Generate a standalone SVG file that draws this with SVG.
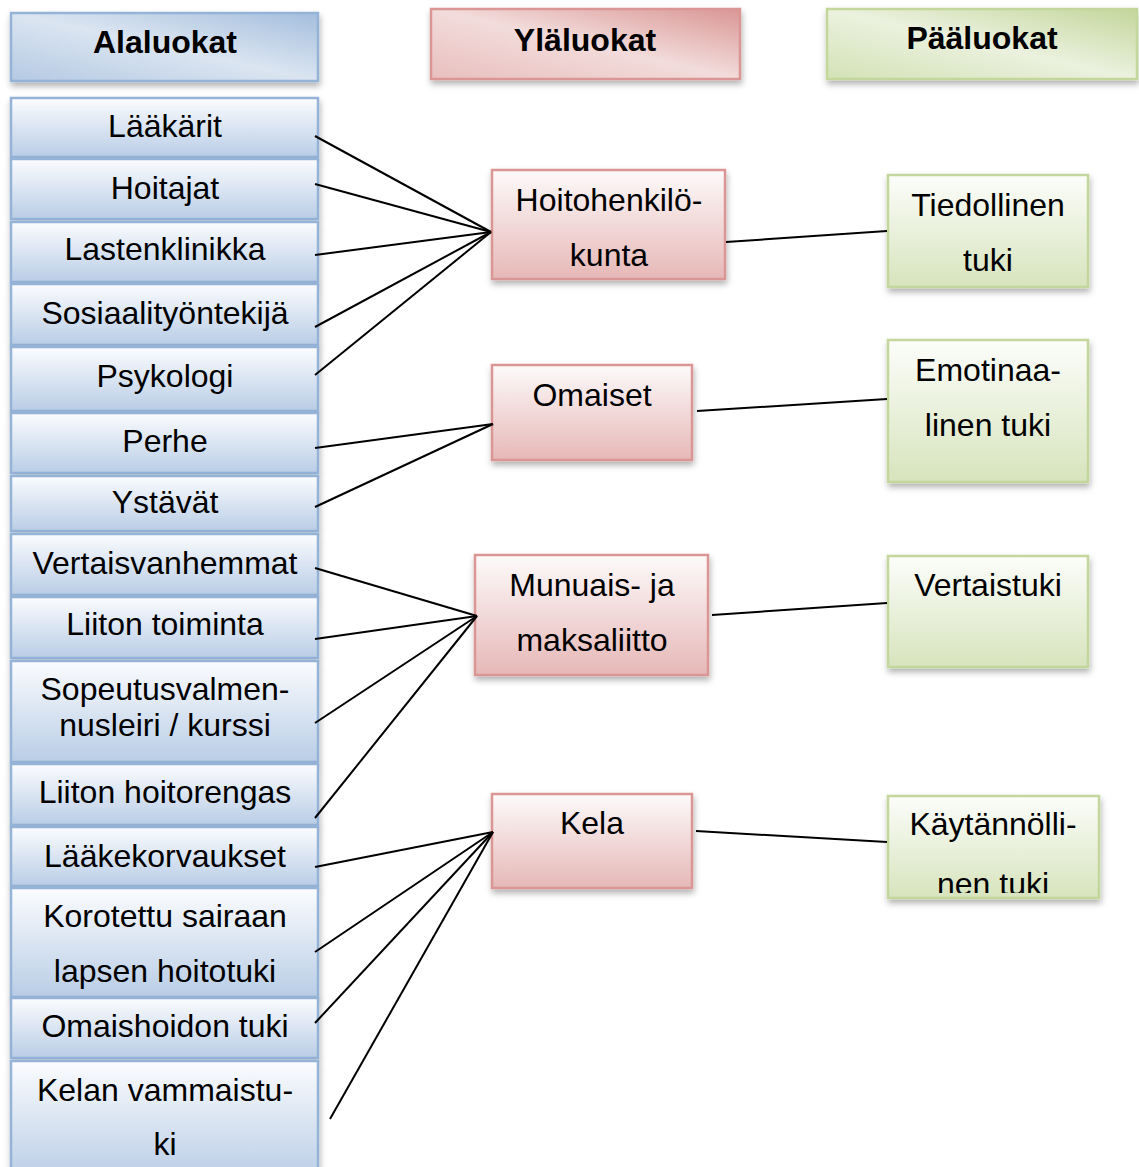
<svg xmlns="http://www.w3.org/2000/svg" width="1139" height="1167" viewBox="0 0 1139 1167">
<defs>
  <linearGradient id="gBlue" x1="0" y1="0" x2="0" y2="1">
    <stop offset="0" stop-color="#fbfcfe"/>
    <stop offset="1" stop-color="#b9cde6"/>
  </linearGradient>
  <linearGradient id="gPink" x1="0" y1="0" x2="0" y2="1">
    <stop offset="0" stop-color="#fdfafa"/>
    <stop offset="1" stop-color="#e6b8b7"/>
  </linearGradient>
  <linearGradient id="gGreen" x1="0" y1="0" x2="0" y2="1">
    <stop offset="0" stop-color="#fcfdfa"/>
    <stop offset="1" stop-color="#d7e4bd"/>
  </linearGradient>
  <linearGradient id="hBlue" x1="1" y1="0" x2="0" y2="1">
    <stop offset="0" stop-color="#a4bedd"/>
    <stop offset="0.5" stop-color="#dbe5f1"/>
    <stop offset="1" stop-color="#b4c9e3"/>
  </linearGradient>
  <linearGradient id="hPink" x1="1" y1="0" x2="0" y2="1">
    <stop offset="0" stop-color="#d99694"/>
    <stop offset="0.5" stop-color="#f2dcdb"/>
    <stop offset="1" stop-color="#e8bfbe"/>
  </linearGradient>
  <linearGradient id="hGreen" x1="1" y1="0" x2="0" y2="1">
    <stop offset="0" stop-color="#c3d69b"/>
    <stop offset="0.5" stop-color="#ebf1de"/>
    <stop offset="1" stop-color="#d3e2b6"/>
  </linearGradient>
  <filter id="sh" x="-10%" y="-10%" width="125%" height="140%">
    <feDropShadow dx="1" dy="4" stdDeviation="3" flood-color="#000" flood-opacity="0.3"/>
  </filter>
  <clipPath id="clipK">
    <rect x="888" y="796" width="211" height="97"/>
  </clipPath>
</defs>
<style>
  text { font-family: "Liberation Sans", Arial, sans-serif; font-size: 32px; fill: #000; text-anchor: middle; }
  .hd { font-weight: bold; }
  .blue { fill: url(#gBlue); stroke: #95b3d7; stroke-width: 2.5; filter: url(#sh); }
  .pink { fill: url(#gPink); stroke: #d99694; stroke-width: 2.5; filter: url(#sh); }
  .green { fill: url(#gGreen); stroke: #c3d69b; stroke-width: 2.5; filter: url(#sh); }
  .hb { fill: url(#hBlue); stroke: #95b3d7; stroke-width: 2.5; filter: url(#sh); }
  .hp { fill: url(#hPink); stroke: #d99694; stroke-width: 2.5; filter: url(#sh); }
  .hg { fill: url(#hGreen); stroke: #c3d69b; stroke-width: 2.5; filter: url(#sh); }
  .ln { stroke: #000; stroke-width: 2; fill: none; }
</style>
<rect width="1139" height="1167" fill="#fff"/>

<!-- headers -->
<g id="h-alaluokat"><rect class="hb" x="11" y="13" width="307" height="68"/><text class="hd" x="165" y="53">Alaluokat</text></g>
<g id="h-ylaluokat"><rect class="hp" x="431" y="9" width="309" height="70"/><text class="hd" x="585" y="51">Yläluokat</text></g>
<g id="h-paaluokat"><rect class="hg" x="827" y="9" width="310" height="70"/><text class="hd" x="982" y="49">Pääluokat</text></g>

<!-- left column -->
<g id="n-laakarit"><rect class="blue" x="11" y="98" width="307" height="59"/><text x="165" y="137">Lääkärit</text></g>
<g id="n-hoitajat"><rect class="blue" x="11" y="159" width="307" height="60"/><text x="165" y="199">Hoitajat</text></g>
<g id="n-lastenklinikka"><rect class="blue" x="11" y="222" width="307" height="60"/><text x="165" y="260">Lastenklinikka</text></g>
<g id="n-sosiaali"><rect class="blue" x="11" y="284" width="307" height="61"/><text x="165" y="324">Sosiaalityöntekijä</text></g>
<g id="n-psykologi"><rect class="blue" x="11" y="347" width="307" height="64"/><text x="165" y="387">Psykologi</text></g>
<g id="n-perhe"><rect class="blue" x="11" y="413" width="307" height="60"/><text x="165" y="452">Perhe</text></g>
<g id="n-ystavat"><rect class="blue" x="11" y="476" width="307" height="55"/><text x="165" y="513">Ystävät</text></g>
<g id="n-vertaisvanhemmat"><rect class="blue" x="11" y="534" width="307" height="61"/><text x="165" y="574">Vertaisvanhemmat</text></g>
<g id="n-liitontoiminta"><rect class="blue" x="11" y="597" width="307" height="61"/><text x="165" y="635">Liiton toiminta</text></g>
<g id="n-sopeutus"><rect class="blue" x="11" y="661" width="307" height="101"/><text x="165" y="700">Sopeutusvalmen-</text><text x="165" y="736">nusleiri / kurssi</text></g>
<g id="n-hoitorengas"><rect class="blue" x="11" y="764" width="307" height="61"/><text x="165" y="803">Liiton hoitorengas</text></g>
<g id="n-laakekorvaukset"><rect class="blue" x="11" y="827" width="307" height="59"/><text x="165" y="867">Lääkekorvaukset</text></g>
<g id="n-korotettu"><rect class="blue" x="11" y="888" width="307" height="109"/><text x="165" y="927">Korotettu sairaan</text><text x="165" y="982">lapsen hoitotuki</text></g>
<g id="n-omaishoidon"><rect class="blue" x="11" y="998" width="307" height="60"/><text x="165" y="1037">Omaishoidon tuki</text></g>
<g id="n-kelanvammaistuki"><rect class="blue" x="11" y="1061" width="307" height="120"/><text x="165" y="1101">Kelan vammaistu-</text><text x="165" y="1155">ki</text></g>

<!-- middle column -->
<g id="n-hoitohenkilokunta"><rect class="pink" x="492" y="170" width="233" height="109"/><text x="609" y="211">Hoitohenkilö-</text><text x="609" y="266">kunta</text></g>
<g id="n-omaiset"><rect class="pink" x="492" y="365" width="200" height="95"/><text x="592" y="406">Omaiset</text></g>
<g id="n-munuais"><rect class="pink" x="475" y="555" width="233" height="120"/><text x="592" y="596">Munuais- ja</text><text x="592" y="651">maksaliitto</text></g>
<g id="n-kela"><rect class="pink" x="492" y="794" width="200" height="94"/><text x="592" y="834">Kela</text></g>

<!-- right column -->
<g id="n-tiedollinen"><rect class="green" x="888" y="175" width="200" height="112"/><text x="988" y="216">Tiedollinen</text><text x="988" y="271">tuki</text></g>
<g id="n-emotionaalinen"><rect class="green" x="888" y="340" width="200" height="142"/><text x="988" y="381">Emotinaa-</text><text x="988" y="436">linen tuki</text></g>
<g id="n-vertaistuki"><rect class="green" x="888" y="556" width="200" height="111"/><text x="988" y="596">Vertaistuki</text></g>
<g id="n-kaytannollinen"><rect class="green" x="888" y="796" width="211" height="102"/><g clip-path="url(#clipK)"><text x="993" y="835">Käytännölli-</text><text x="993" y="895">nen tuki</text></g></g>

<!-- connectors -->
<g id="connectors" class="ln">
  <line x1="315" y1="136" x2="491" y2="232"/>
  <line x1="315" y1="184" x2="491" y2="232"/>
  <line x1="315" y1="255" x2="491" y2="232"/>
  <line x1="315" y1="327" x2="491" y2="232"/>
  <line x1="315" y1="375" x2="491" y2="232"/>
  <line x1="315" y1="448" x2="493" y2="424"/>
  <line x1="315" y1="507" x2="493" y2="424"/>
  <line x1="315" y1="568" x2="477" y2="616"/>
  <line x1="315" y1="639" x2="477" y2="616"/>
  <line x1="315" y1="723" x2="477" y2="616"/>
  <line x1="315" y1="818" x2="477" y2="616"/>
  <line x1="315" y1="867" x2="493" y2="832"/>
  <line x1="315" y1="952" x2="493" y2="832"/>
  <line x1="315" y1="1023" x2="493" y2="832"/>
  <line x1="330" y1="1119" x2="493" y2="832"/>
  <line x1="726" y1="242" x2="887" y2="231"/>
  <line x1="697" y1="411" x2="887" y2="399"/>
  <line x1="712" y1="615" x2="887" y2="603"/>
  <line x1="696" y1="831" x2="887" y2="842"/>
</g>
</svg>
